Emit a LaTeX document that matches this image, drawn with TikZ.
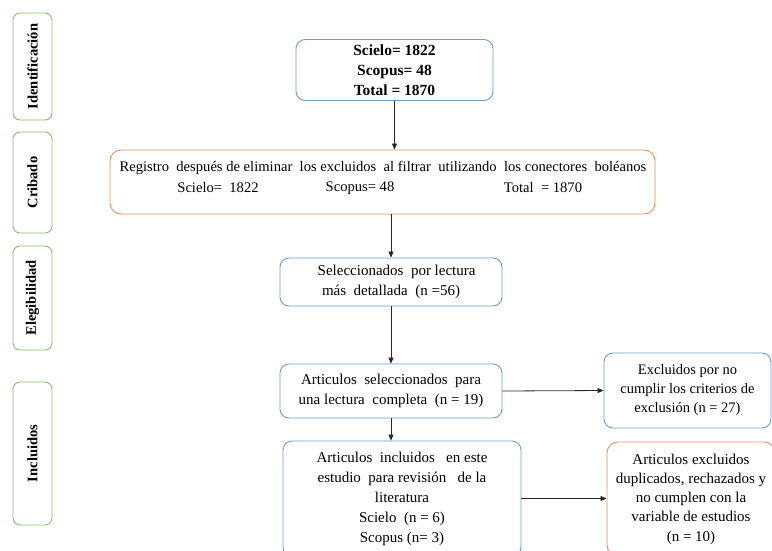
\documentclass[tikz,border=0pt]{standalone}
\usepackage{fontspec}
\setmainfont{Liberation Serif}
\usetikzlibrary{arrows.meta}
\definecolor{bblue}{RGB}{110,155,200}
\definecolor{borange}{RGB}{232,145,90}
\definecolor{bgreen}{RGB}{140,190,110}
\definecolor{arr}{RGB}{40,40,40}
\tikzset{
  bluebox/.style={draw=bblue, line width=0.9pt, rounded corners=9pt, align=center, inner sep=0pt, font=\fontsize{15}{20}\selectfont},
  orangebox/.style={draw=borange, line width=0.9pt, rounded corners=11pt, align=center, inner sep=0pt, font=\fontsize{15}{20}\selectfont},
  phase/.style={draw=bgreen, line width=0.9pt, rounded corners=7pt, rotate=90, inner sep=0pt, font=\bfseries\fontsize{14.5}{16}\selectfont},
  txt/.style={inner sep=0pt, font=\fontsize{14.6}{20}\selectfont},
  flow/.style={draw=arr, line width=0.8pt, -{Triangle[length=6pt,width=5pt]}}
}
\begin{document}
\begin{tikzpicture}[x=1pt,y=-1pt]
\useasboundingbox (0,0) rectangle (772,550);
\clip (0,0) rectangle (772,550);
% phase labels
\node[phase, minimum width=107, minimum height=39] (ph1) at (32.5,66.5) {Identificación};
\node[phase, minimum width=101, minimum height=39] (ph2) at (32.5,182.5) {Cribado};
\node[phase, minimum width=104, minimum height=39] (ph3) at (32.5,298) {Elegibilidad};
\node[phase, minimum width=143, minimum height=39] (ph4) at (32.5,453.5) {Incluidos};
% boxes
\node[bluebox, minimum width=197, minimum height=61, font=\bfseries\fontsize{15.5}{20}\selectfont] (top) at (394.5,70) {Scielo= 1822\\Scopus= 48\\Total = 1870};
\node[orangebox, minimum width=545, minimum height=64] (crib) at (382.5,182) {};
\node[txt] (crib1) at (383,168) {Registro\ \ después de eliminar\ \ los excluidos\ \ al filtrar\ \ utilizando\ \ los conectores\ \ boléanos};
\node[txt] (crib2) at (218,188) {Scielo=\ \ 1822};
\node[txt] (crib3) at (360,188) {Scopus= 48};
\node[txt] (crib4) at (543,188) {Total\ \ = 1870};
\node[bluebox, minimum width=222, minimum height=48] (sel) at (391,282) {\ \ \ Seleccionados\ \ por lectura\\más\ \ detallada\ \ (n =56)};
\node[bluebox, minimum width=222, minimum height=54] (art) at (391,391) {Articulos\ \ seleccionados\ \ para\\una lectura\ \ completa\ \ (n = 19)};
\node[bluebox, minimum width=167, minimum height=75, font=\fontsize{14.5}{19}\selectfont] (exc) at (687.5,390.5) {Excluidos por no\\cumplir los criterios de\\exclusión (n = 27)};
\node[bluebox, minimum width=238, minimum height=115] (incl) at (402,498.5) {Articulos\ \ incluidos\ \ \ en este\\estudio\ \ para revisión\ \ \ de la\\literatura\\Scielo\ \ (n = 6)\\Scopus (n= 3)};
\node[orangebox, minimum width=168, minimum height=114, font=\fontsize{15}{19.3}\selectfont] (orn) at (691,499) {Articulos excluidos\\duplicados,\ rechazados y\\no cumplen con la\\variable de estudios\\(n = 10)};
% connectors
\draw[flow] (top.south) -- (top.south |- crib.north);
\draw[flow] (sel.north |- crib.south) -- (sel.north);
\draw[flow] (sel.south) -- (art.north);
\draw[flow] (art.south) -- (art.south |- incl.north);
\draw[flow] (art.east) -- (exc.west);
\draw[flow] (incl.east) -- (incl.east -| orn.west);
\end{tikzpicture}
\end{document}
